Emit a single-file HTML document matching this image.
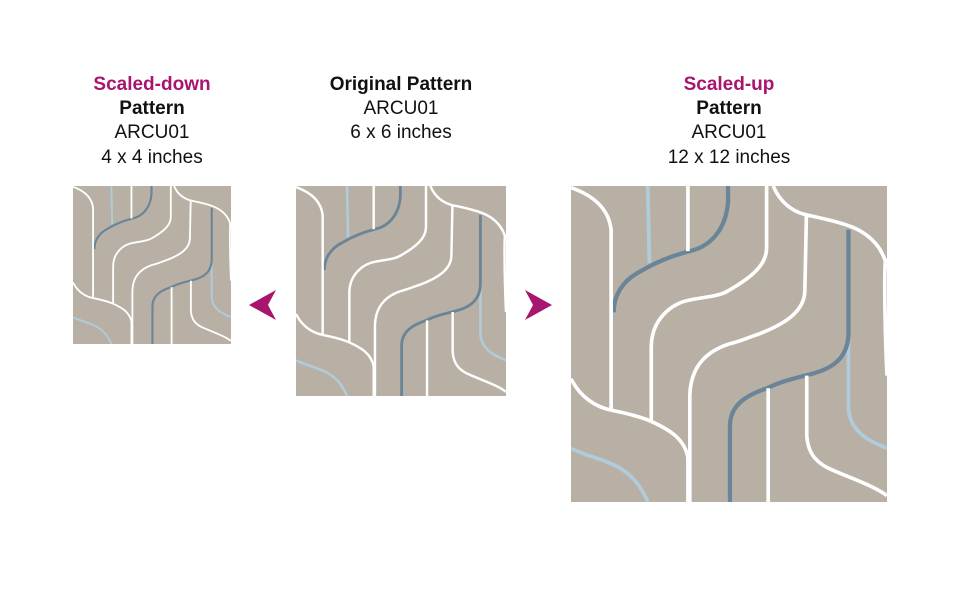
<!DOCTYPE html>
<html><head><meta charset="utf-8"><style>
html,body{margin:0;padding:0;background:#fff;}
svg{display:block;}
text{font-family:"Liberation Sans",sans-serif;font-size:19px;text-anchor:middle;fill:#111;}
.b{font-weight:bold;}
.m{fill:#a8156e;font-weight:bold;}
</style></head><body>
<svg width="960" height="594" viewBox="0 0 960 594" xmlns="http://www.w3.org/2000/svg">
<defs>
<clipPath id="c"><rect x="0" y="0" width="100" height="100"/></clipPath>
<g id="tile">
<rect x="0" y="0" width="100" height="100" fill="#b9b0a5"/>
<g clip-path="url(#c)" fill="none" stroke-linecap="butt">
<g stroke="#b0cbd9" stroke-width="1.2">
<path d="M24.3,0 L24.8,24.3"/>
<path d="M87.8,47 L87.8,70 C88,78 95,81 100,83"/>
<path d="M0,83 C4,85 8,86 10.6,87 C16,89 21,92 24.3,100"/>
</g>
<g stroke="#6a8597" stroke-width="1.35">
<path d="M49.7,0 L49.7,5 C49,14 44,19 38,20.5 C32,22 27,24 22,27 C16,30 13.5,35 13.5,40"/>
<path d="M87.8,13.8 L87.8,47 C87.5,55 82,58 76,59.5 C70,61 66,62 62,64 C56,66 50.3,69 50.3,76 L50.3,100"/>
</g>
<g stroke="#fff" stroke-width="1.15">
<path d="M0,0.5 C7,3 12,7 12.7,14 L12.7,70.5"/>
<path d="M0,61 C3,67 8,70 13,71 C18,72 22,73 25.4,74.5 C31,77 36,80 37,86 L37,100"/>
<path d="M25.4,74.5 L25.4,51 C25.4,42 32,37 38,36 C43,35 47,34.9 50,33 C57,29 61.9,25 61.9,19.6 L61.9,0"/>
<path d="M37,0 L37,20.6"/>
<path d="M37.6,100 L37.6,66 C38,56 44,52 50,50 C54,49 56,48 59,47 C67,44 74,40 74,33 L74.5,9"/>
<path d="M64,0 C66,5 70,8 74,9 C78,10 84,11 89,13 C95,15.5 99,20 100,26"/>
<path d="M62.4,64 L62.4,100"/>
<path d="M74.6,60 L74.6,79 C75,85 78,88 83,90 C90,93 96,95 100,98"/>
<path d="M99.5,23 C99,30 99.5,50 100,60"/>
</g>
</g>
</g>
</defs>
<use href="#tile" transform="translate(73,186) scale(1.58)"/>
<use href="#tile" transform="translate(296,186) scale(2.1)"/>
<use href="#tile" transform="translate(571,186) scale(3.16)"/>
<path d="M276,290 L249,305 L276,320 L268,305 Z" fill="#a8156e"/>
<path d="M525,290 L552,305 L525,320 L533,305 Z" fill="#a8156e"/>
<text x="152" y="90" class="m">Scaled-down</text>
<text x="152" y="114" class="b">Pattern</text>
<text x="152" y="138">ARCU01</text>
<text x="152" y="163">4 x 4 inches</text>
<text x="401" y="90" class="b">Original Pattern</text>
<text x="401" y="114">ARCU01</text>
<text x="401" y="138">6 x 6 inches</text>
<text x="729" y="90" class="m">Scaled-up</text>
<text x="729" y="114" class="b">Pattern</text>
<text x="729" y="138">ARCU01</text>
<text x="729" y="163">12 x 12 inches</text>
</svg>
</body></html>
